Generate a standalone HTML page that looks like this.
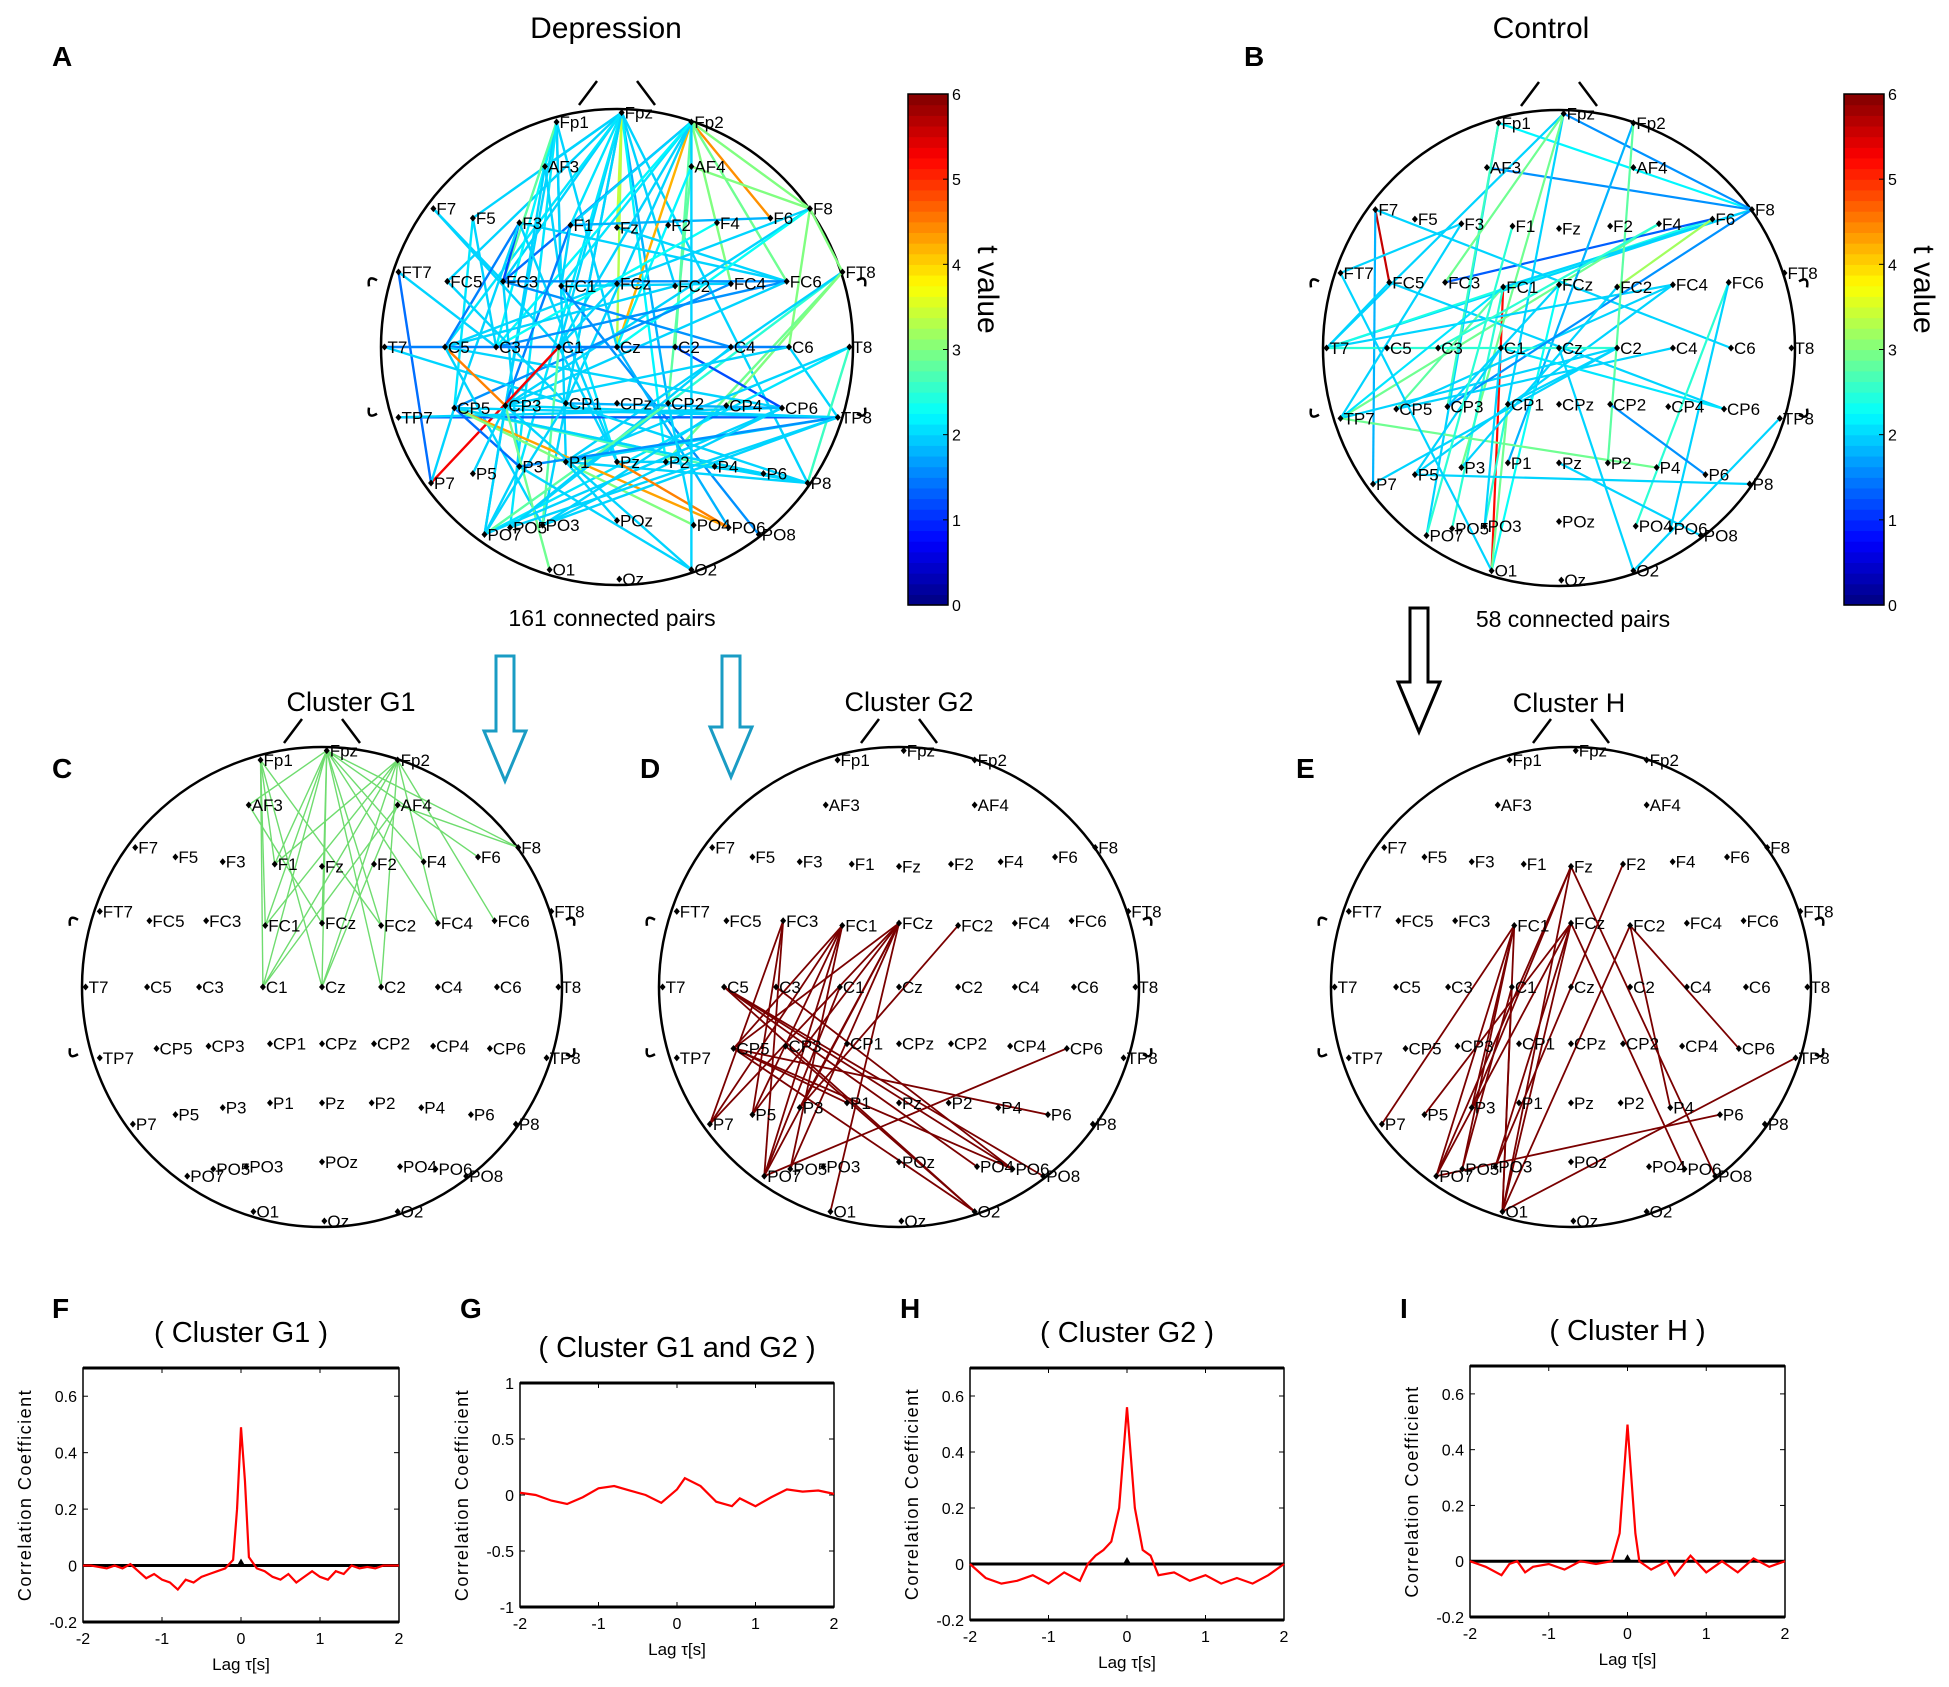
<!DOCTYPE html>
<html><head><meta charset="utf-8"><style>
html,body{margin:0;padding:0;background:#fff}
svg{display:block;font-family:"Liberation Sans",sans-serif}
</style></head><body>
<svg id="fig" width="1949" height="1687" viewBox="0 0 1949 1687" xmlns="http://www.w3.org/2000/svg">
<g id="static">
<text x="606" y="38" font-size="30" text-anchor="middle">Depression</text>
<text x="1541" y="38" font-size="30" text-anchor="middle">Control</text>
<text x="52" y="66" font-size="28" font-weight="bold">A</text>
<text x="1244" y="66" font-size="28" font-weight="bold">B</text>
<text x="52" y="778" font-size="28" font-weight="bold">C</text>
<text x="640" y="778" font-size="28" font-weight="bold">D</text>
<text x="1296" y="778" font-size="28" font-weight="bold">E</text>
<text x="52" y="1318" font-size="28" font-weight="bold">F</text>
<text x="460" y="1318" font-size="28" font-weight="bold">G</text>
<text x="900" y="1318" font-size="28" font-weight="bold">H</text>
<text x="1400" y="1318" font-size="28" font-weight="bold">I</text>
<text x="612" y="626" font-size="23" text-anchor="middle">161 connected pairs</text>
<text x="1573" y="627" font-size="23" text-anchor="middle">58 connected pairs</text>
<text x="351" y="711" font-size="27" text-anchor="middle">Cluster G1</text>
<text x="909" y="711" font-size="27" text-anchor="middle">Cluster G2</text>
<text x="1569" y="712" font-size="27" text-anchor="middle">Cluster H</text>
<path d="M496 656 h18 v75 h12 l-21 50 l-21 -50 h12 z" fill="none" stroke="#1a9cc4" stroke-width="3"/>
<path d="M722 656 h18 v71 h12 l-21 50 l-21 -50 h12 z" fill="none" stroke="#1a9cc4" stroke-width="3"/>
<path d="M1410 608 h18 v74 h12 l-21 50 l-21 -50 h12 z" fill="none" stroke="#000" stroke-width="3"/>
</g>
</svg>
<script>
const NS="http://www.w3.org/2000/svg";
const svg=document.getElementById('fig');
function mk(tag,attrs,parent){const e=document.createElementNS(NS,tag);for(const k in attrs)e.setAttribute(k,attrs[k]);(parent||svg).appendChild(e);return e;}

const electrodes={Fp1:[-0.26,-0.96],Fpz:[0.02,-1.0],Fp2:[0.32,-0.96],AF3:[-0.31,-0.77],AF4:[0.32,-0.77],
F7:[-0.79,-0.59],F5:[-0.62,-0.55],F3:[-0.42,-0.53],F1:[-0.2,-0.52],Fz:[0,-0.51],F2:[0.22,-0.52],F4:[0.43,-0.53],F6:[0.66,-0.55],F8:[0.83,-0.59],
FT7:[-0.94,-0.32],FC5:[-0.73,-0.28],FC3:[-0.49,-0.28],FC1:[-0.24,-0.26],FCz:[0,-0.27],FC2:[0.25,-0.26],FC4:[0.49,-0.27],FC6:[0.73,-0.28],FT8:[0.97,-0.32],
T7:[-1,0],C5:[-0.74,0],C3:[-0.52,0],C1:[-0.25,0],Cz:[0,0],C2:[0.25,0],C4:[0.49,0],C6:[0.74,0],T8:[1,0],
TP7:[-0.94,0.3],CP5:[-0.7,0.26],CP3:[-0.48,0.25],CP1:[-0.22,0.24],CPz:[0,0.24],CP2:[0.22,0.24],CP4:[0.47,0.25],CP6:[0.71,0.26],TP8:[0.95,0.3],
P7:[-0.8,0.58],P5:[-0.62,0.54],P3:[-0.42,0.51],P1:[-0.22,0.49],Pz:[0,0.49],P2:[0.21,0.49],P4:[0.42,0.51],P6:[0.63,0.54],P8:[0.82,0.58],
PO7:[-0.57,0.8],PO5:[-0.46,0.77],PO3:[-0.32,0.76],POz:[0,0.74],PO4:[0.33,0.76],PO6:[0.48,0.77],PO8:[0.61,0.8],
O1:[-0.29,0.95],Oz:[0.01,0.99],O2:[0.32,0.95]};

const pairsA=[["Fpz","AF3",2],["Fpz","F1",2.1],["Fpz","FC3",2],["Fpz","C1",2],["Fpz","Cz",3.3],["Fpz","CP1",2],["Fpz","P3",2.1],["Fpz","FC5",2],["Fpz","F5",2],["Fpz","CP2",1.8],["Fpz","P2",2.2],["Fpz","P8",2],["Fpz","Fz",3.4],["Fpz","PO3",2],["Fpz","FC2",2],["Fpz","C5",2.1],
["Fp1","AF3",2],["Fp1","FC1",2],["Fp1","C3",2.2],["Fp1","CP3",2],["Fp1","P1",2],["Fp1","Cz",2],["Fp1","FC3",2.8],["Fp1","PO5",2.1],
["Fp2","F6",4.4],["Fp2","Cz",4.2],["Fp2","AF4",3],["Fp2","F8",3],["Fp2","FC3",1.4],["Fp2","C1",2],["Fp2","FC4",3],["Fp2","C2",2.8],["Fp2","FC1",2.1],["Fp2","CP1",2],["Fp2","FC6",2.9],["Fp2","F1",2],["Fp2","C3",2.2],
["AF3","FC1",2],["AF3","PO7",2],["AF4","CP2",2.8],["AF4","F8",3],["AF4","Cz",2.2],
["F7","FC3",2],["F7","C1",2],["F5","C3",2],["F5","CP5",2.1],["F3","FC3",1.2],["F3","C5",1.5],["F3","CP5",2],["F3","FC6",2],["F3","Pz",2],["F1","F6",1.8],["F1","CP3",1.5],["F1","FC1",2],["Fz","FC6",2],["F8","FT8",3],["F8","CP3",2],["F8","Cz",2.3],["F8","C5",2],["F4","C3",2.3],["F8","C6",3],
["FT7","P7",1.4],["FT7","C3",2],["FC5","CP1",2],["FC3","C4",1.6],["FC3","P3",2],["FC1","FC4",2],["FC1","Pz",2.1],["FC1","PO8",1.6],["FCz","CP3",2],["FC2","C5",2],["FC4","CP5",1.6],["FC6","C3",1.6],["FC6","CP3",2],["FC6","FC3",1.6],["FT8","CP2",2.5],["FT8","P1",2],["FT8","P2",2.9],["FT8","CP4",3],
["T7","C6",1.5],["T7","CP1",2],["C5","CP3",4.5],["C5","PO3",2],["C5","CP6",2],["C1","P7",5.3],["C1","Pz",2],["C1","PO3",2.8],["Cz","PO6",1.8],["C2","CP6",1.2],["C4","PO5",2],["C6","TP8",2],["C6","CP3",2],["T8","P8",2.6],["T8","PO7",2.1],["T8","P1",2],
["TP7","TP8",1.3],["TP7","CP6",2],["CP5","PO6",4.3],["CP5","PO4",3],["CP5","P4",2.7],["CP5","P6",2.5],["CP5","P3",1.4],["CP5","P8",2],["CP5","TP8",2],["CP3","O1",2.9],["CP3","PO7",2],["CP3","TP8",2],["CP1","P8",2],["CP1","PO7",2],["CP2","PO5",2],["CP2","PO7",2.8],["CP4","PO3",2],["CP6","PO7",2],["CP6","CP1",1.8],
["TP8","P1",2],["TP8","P3",1.6],["TP8","PO3",2],["TP8","PO5",2],["P3","PO7",2],["P1","P8",2],["Pz","PO6",4.5],["Pz","P2",2],["P2","P6",2],["P4","P8",2],["P7","CP5",2],["P5","CP3",2],["PO3","CP6",2],["POz","P1",2],["O2","CP3",2],["O2","P3",2],["O2","Fp2",2],["PO4","CP2",2]];

const pairsB=[["F7","FC5",5.6],["FC1","O1",5.2],["Fp1","F8",2.2],["Fpz","F8",1.6],["AF3","F8",1.6],["F8","T7",2],["F6","T7",2.4],["F4","TP7",2.9],["FC3","F6",1.3],["Fpz","T7",2],["Fp1","PO7",2],["Fpz","CP1",2],["Fpz","P3",2.9],["Fp1","CP3",2.6],["Fp2","P1",1.8],["F7","C6",2],["F7","P7",1.8],["FC5","CP6",2],["FC5","T7",2],["FC1","F8",2],["FC2","F6",3.2],["FC1","CP5",2.8],["FC1","PO5",2.5],["FCz","CP3",2],["FCz","O1",2.3],["FC4","P5",2],["FC4","CP5",2],["FC6","PO4",2.5],["FC6","PO6",2],["T7","FC4",2],["T7","C2",2.5],["TP7","F3",2],["TP7","C2",2],["TP7","P4",2.9],["TP7","FC1",2.1],["CP5","C4",2],["CP3","F8",1.6],["CP1","PO3",2.5],["CP1","O1",2.9],["P7","C2",2],["P5","C1",2],["P3","FC2",2],["PO3","C1",2],["PO7","F1",2.5],["PO8","Pz",2],["O2","TP8",2],["P8","P5",2],["O1","FT7",2],["F3","FT7",2],["Fp2","P2",2.8],["C3","F4",2.5],["FC3","Fpz",2.9],["CP2","P6",1.6],["CP6","C1",2.1],["C2","CP1",2],["Cz","O2",2]];

const pairsG1=[["Fp1","C1",3],["Fp1","FC1",3],["Fp1","Cz",3],["Fp1","F1",3],["Fp1","FC2",3],["Fpz","AF3",3],["Fpz","F1",3],["Fpz","FC1",3],["Fpz","C1",3],["Fpz","Cz",3],["Fpz","FCz",3],["Fpz","FC2",3],["Fpz","C2",3],["Fpz","F4",3],["Fpz","F6",3],["Fpz","F8",3],["Fpz","FC4",3],["Fp2","C1",3],["Fp2","FC1",3],["Fp2","Cz",3],["Fp2","C2",3],["Fp2","FC6",3],["Fp2","F1",3],["Fp2","FC4",3],["AF4","C1",3],["AF4","F8",3],["AF4","Cz",3],["AF3","FCz",3]];

const pairsG2=[["C5","PO8",6],["C5","O2",6],["C5","PO6",6],["C5","PO4",6],["CP5","P6",6],["CP5","PO6",6],["CP5","O2",6],["CP5","FCz",6],["CP5","FC1",6],["CP5","P1",6],["P7","FCz",6],["P7","FC3",6],["P7","FC1",6],["PO7","FCz",6],["PO7","FC1",6],["PO7","C1",6],["PO7","FC3",6],["PO7","CP6",6],["PO5","FC1",6],["PO5","FCz",6],["O1","FCz",6],["P5","FC1",6],["P5","FCz",6],["P3","FC2",6],["CP3","O2",6],["C3","PO6",6],["P5","FC3",6],["P3","FCz",6]];

const pairsH=[["O1","FC1",6],["O1","FCz",6],["O1","Fz",6],["O1","C1",6],["O1","TP8",6],["O1","FC2",6],["PO7","P6",6],["PO7","FCz",6],["PO7","FC1",6],["PO7","Fz",6],["P7","FC1",6],["P5","FCz",6],["P3","Fz",6],["PO5","C1",6],["PO3","FCz",6],["PO3","F2",6],["FC2","CP6",6],["Fz","PO8",6],["FCz","PO6",6],["PO5","FC1",6],["P3","FC1",6],["FC2","P4",6]];

function jet(t){const c=v=>Math.round(255*Math.max(0,Math.min(1,v)));return `rgb(${c(1.5-Math.abs(4*t-3))},${c(1.5-Math.abs(4*t-2))},${c(1.5-Math.abs(4*t-1))})`;}

function head(name,cx,cy,rx,ry,pairs,colorFn,lw){
  const g=mk('g',{});
  
  
  const px=e=>cx+electrodes[e][0]*rx*0.985, py=e=>cy+electrodes[e][1]*ry*0.985;
  const outline=mk('ellipse',{cx:cx,cy:cy,rx:rx,ry:ry,fill:'none',stroke:'#000','stroke-width':2.5},g);
  
  
  const nose=mk('path',{d:`M${cx-38} ${cy-ry-4} L${cx-20} ${cy-ry-28} M${cx+38} ${cy-ry-4} L${cx+20} ${cy-ry-28}`,fill:'none',stroke:'#000','stroke-width':2.5},g);
  
  
  [-1,1].forEach(s=>{
    const ear=mk('path',{d:`M${cx+s*(rx+4)} ${cy-0.28*ry} q${s*10} -6 ${s*8} 6 M${cx+s*(rx+4)} ${cy+0.28*ry} q${s*10} 6 ${s*8} -6`,fill:'none',stroke:'#000','stroke-width':2.5},g);
    
    
  });
  pairs.forEach(p=>{
    const l=mk('line',{x1:px(p[0]),y1:py(p[0]),x2:px(p[1]),y2:py(p[1]),stroke:colorFn(p[2]),'stroke-width':lw},g);
    
    
  });
  for(const e in electrodes){
    const x=px(e),y=py(e);
    const m=mk('path',{d:`M${x} ${y-3.5} L${x+3} ${y} L${x} ${y+3.5} L${x-3} ${y} Z`,fill:'#000'},g);
    
    
    const t=mk('text',{x:x+3,y:y+6,'font-size':17,fill:'#000'},g);
    t.textContent=e;
    
    
  }
}
head('head-depression',617,347,236,238,pairsA,t=>jet(t/6),2.4);
head('head-control',1559,348,236,238,pairsB,t=>jet(t/6),2.2);
head('head-cluster-g1',322,987,240,240,pairsG1,()=>'#6fdc6f',1.4);
head('head-cluster-g2',899,987,240,240,pairsG2,()=>'#7a0000',1.8);
head('head-cluster-h',1571,987,240,240,pairsH,()=>'#7a0000',1.8);

const cbTicks=[0,1,2,3,4,5,6];
function colorbar(name,x,y0,y1){
  const g=mk('g',{});
  
  
  const n=48,h=(y1-y0)/n;
  for(let i=0;i<n;i++){mk('rect',{x:x,y:y1-(i+1)*h,width:40,height:h+0.6,fill:jet((i+0.5)/n)},g);}
  mk('rect',{x:x,y:y0,width:40,height:y1-y0,fill:'none',stroke:'#000','stroke-width':1.5},g);
  cbTicks.forEach(v=>{const y=y1-(v/6)*(y1-y0);
    mk('line',{x1:x+35,y1:y,x2:x+40,y2:y,stroke:'#000'},g);
    const t=mk('text',{x:x+44,y:y+6,'font-size':16},g);t.textContent=v;
    
    });
  const lab=mk('text',{x:x+70,y:(y0+y1)/2-60,'font-size':30,transform:`rotate(90 ${x+70} ${(y0+y1)/2-60})`,'text-anchor':'middle'},g);
  lab.textContent='t value';
  
  
}
colorbar('colorbar-depression',908,94,605);
colorbar('colorbar-control',1844,94,605);

const lagsF=[-2,-1.9,-1.8,-1.7,-1.6,-1.5,-1.4,-1.3,-1.2,-1.1,-1,-0.9,-0.8,-0.7,-0.6,-0.5,-0.4,-0.3,-0.2,-0.1,-0.05,0,0.05,0.1,0.2,0.3,0.4,0.5,0.6,0.7,0.8,0.9,1,1.1,1.2,1.3,1.4,1.5,1.6,1.7,1.8,1.9,2];
const valsF=[0,0,-0.005,-0.01,0,-0.01,0.005,-0.02,-0.045,-0.03,-0.05,-0.06,-0.085,-0.05,-0.06,-0.04,-0.03,-0.02,-0.01,0.02,0.2,0.49,0.3,0.03,-0.01,-0.02,-0.04,-0.05,-0.03,-0.06,-0.04,-0.02,-0.04,-0.05,-0.02,-0.03,0,-0.01,-0.005,-0.01,0,0,0];
const lagsG=[-2,-1.8,-1.6,-1.4,-1.2,-1,-0.8,-0.6,-0.4,-0.2,0,0.1,0.3,0.5,0.7,0.8,1,1.2,1.4,1.6,1.8,2];
const valsG=[0.02,0,-0.05,-0.08,-0.02,0.06,0.08,0.04,0,-0.07,0.05,0.15,0.08,-0.06,-0.1,-0.03,-0.1,-0.02,0.05,0.03,0.04,0.01];
const lagsH=[-2,-1.8,-1.6,-1.4,-1.2,-1,-0.8,-0.6,-0.5,-0.4,-0.3,-0.2,-0.1,0,0.1,0.2,0.3,0.4,0.6,0.8,1,1.2,1.4,1.6,1.8,2];
const valsH=[0,-0.05,-0.07,-0.06,-0.04,-0.07,-0.03,-0.06,0,0.03,0.05,0.08,0.2,0.56,0.2,0.05,0.03,-0.04,-0.03,-0.06,-0.04,-0.07,-0.05,-0.07,-0.04,0];
const lagsI=[-2,-1.9,-1.8,-1.6,-1.5,-1.4,-1.3,-1.2,-1,-0.8,-0.6,-0.4,-0.2,-0.1,0,0.1,0.15,0.3,0.5,0.6,0.8,1,1.2,1.4,1.6,1.8,2];
const valsI=[0,-0.01,-0.02,-0.05,-0.01,0,-0.04,-0.02,-0.01,-0.03,0,-0.01,0,0.1,0.49,0.1,0,-0.03,0,-0.05,0.02,-0.04,0,-0.04,0.01,-0.02,0];
const xTicks=[-2,-1,0,1,2];
const yTicksSmall=[-0.2,0,0.2,0.4,0.6];
const yTicksG=[-1,-0.5,0,0.5,1];

function plot(name,title,L,T,R,B,ylim,yticks,lags,vals,band){
  const g=mk('g',{});
  
  
  const sx=v=>L+(v+2)/4*(R-L), sy=v=>B-(v-ylim[0])/(ylim[1]-ylim[0])*(B-T);
  mk('rect',{x:L,y:T,width:R-L,height:B-T,fill:'#fff',stroke:'#000','stroke-width':1.5},g);
  mk('line',{x1:L,y1:T,x2:R,y2:T,stroke:'#000','stroke-width':3},g);
  mk('line',{x1:L,y1:B,x2:R,y2:B,stroke:'#000','stroke-width':3},g);
  xTicks.forEach(v=>{const x=sx(v);mk('line',{x1:x,y1:B,x2:x,y2:B-5,stroke:'#000'},g);mk('line',{x1:x,y1:T,x2:x,y2:T+5,stroke:'#000'},g);
    const t=mk('text',{x:x,y:B+22,'font-size':16,'text-anchor':'middle'},g);t.textContent=v;
    
    });
  yticks.forEach(v=>{const y=sy(v);mk('line',{x1:L,y1:y,x2:L+5,y2:y,stroke:'#000'},g);mk('line',{x1:R,y1:y,x2:R-5,y2:y,stroke:'#000'},g);
    const t=mk('text',{x:L-6,y:y+6,'font-size':16,'text-anchor':'end'},g);t.textContent=v;
    
    });
  if(band){mk('line',{x1:L,y1:sy(0),x2:R,y2:sy(0),stroke:'#000','stroke-width':3},g);
    mk('path',{d:`M${sx(0)-4} ${sy(0)} L${sx(0)} ${sy(0)-7} L${sx(0)+4} ${sy(0)} Z`,fill:'#000'},g);}
  const pts=lags.map((l,i)=>sx(l)+','+sy(vals[i])).join(' ');
  const c=mk('polyline',{points:pts,fill:'none',stroke:'#f00','stroke-width':2.2},g);
  
  
  const tt=mk('text',{x:(L+R)/2,y:T-26,'font-size':29,'text-anchor':'middle'},g);tt.textContent=title;
  
  
  const xl=mk('text',{x:(L+R)/2,y:B+48,'font-size':17,'text-anchor':'middle'},g);xl.textContent='Lag τ[s]';
  
  
  const yx=L-52,yy=(T+B)/2;
  const yl=mk('text',{x:yx,y:yy,'font-size':18,'letter-spacing':1.5,'text-anchor':'middle',transform:`rotate(-90 ${yx} ${yy})`},g);yl.textContent='Correlation Coefficient';
  
  
}
plot('plot-cluster-g1','( Cluster G1 )',83,1368,399,1622,[-0.2,0.7],yTicksSmall,lagsF,valsF,true);
plot('plot-cluster-g1-g2','( Cluster G1 and G2 )',520,1383,834,1607,[-1,1],yTicksG,lagsG,valsG,false);
plot('plot-cluster-g2','( Cluster G2 )',970,1368,1284,1620,[-0.2,0.7],yTicksSmall,lagsH,valsH,true);
plot('plot-cluster-h','( Cluster H )',1470,1366,1785,1617,[-0.2,0.7],yTicksSmall,lagsI,valsI,true);
</script>
</body></html>
